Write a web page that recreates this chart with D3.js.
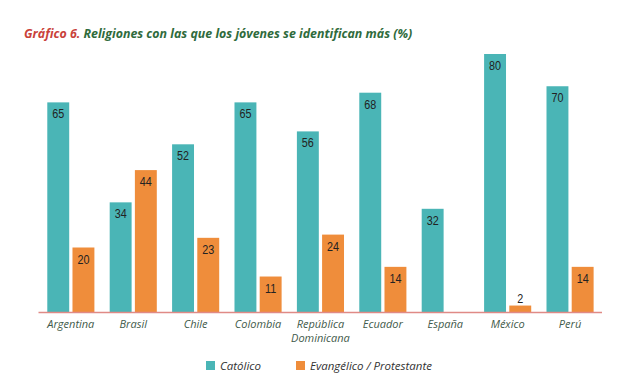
<!DOCTYPE html>
<html><head><meta charset="utf-8">
<script src="https://cdn.jsdelivr.net/npm/d3@7"></script>
<style>body{margin:0;background:#fff;} svg{display:block;}</style>
</head><body>
<svg id="c" width="630" height="384"></svg>
<script>
const countries = ["Argentina","Brasil","Chile","Colombia","República\nDominicana","Ecuador","España","México","Perú"];
const catolico = [65,34,52,65,56,68,32,80,70];
const evangelico = [20,44,23,11,24,14,null,2,14];
const seriesNames = ["Católico","Evangélico / Protestante"];
const colors = ["#4ab5b6","#ef8d3b"];

const svg = d3.select("#c");
const baseY = 312;
const y = d3.scaleLinear().domain([0,80]).range([baseY, 54]);
const x0 = d3.scaleBand().domain(countries).range([39.8, 601.1]).paddingInner(0.245).paddingOuter(0.12);
const x1 = d3.scaleBand().domain([0,1]).range([0, x0.bandwidth()]).paddingInner(0.13);

// title
const t = svg.append("text").attr("x",24).attr("y",38)
  .attr("font-family","'Open Sans', sans-serif").attr("font-size",12.4).attr("font-weight","bold").attr("font-style","italic");
t.append("tspan").attr("fill","#c9413a").text("Gráfico 6. ");
t.append("tspan").attr("fill","#2f6b3c").text("Religiones con las que los jóvenes se identifican más (%)");

const data = countries.map((c,i)=>({c, v:[catolico[i], evangelico[i]]}));
const g = svg.append("g");
data.forEach(d=>{
  d.v.forEach((v,k)=>{
    if(v==null) return;
    const bx = x0(d.c)+x1(k);
    g.append("rect").attr("x",bx).attr("y",y(v)).attr("width",x1.bandwidth()).attr("height",baseY-y(v))
      .attr("fill",colors[k]);
    const inside = (baseY-y(v))>20;
    const ly = inside ? y(v)+16 : y(v)-3;
    g.append("text").attr("transform",`translate(${bx+x1.bandwidth()/2},${ly}) scale(0.8,1)`)
      .attr("text-anchor","middle").attr("font-family","'Liberation Sans',sans-serif")
      .attr("font-size",13.5).attr("fill","#222").text(v);
  });
});

// axis baseline
const xAxis = d3.axisBottom(x0).tickSize(0).tickFormat("");
const ax = svg.append("g").attr("transform",`translate(0,${baseY})`).call(xAxis);
ax.select(".domain").attr("d","M38.5,0.5H602").attr("stroke","#e08a86").attr("stroke-width",1.3);
countries.forEach(c=>{
  const lines = c.split("\n");
  const tx = svg.append("text").attr("x",x0(c)+x0.bandwidth()/2).attr("y",327.5)
    .attr("text-anchor","middle").attr("font-family","'Open Sans',sans-serif").attr("font-style","italic")
    .attr("font-size",11).attr("fill","#3f5a4a");
  lines.forEach((l,i)=>tx.append("tspan").attr("x",x0(c)+x0.bandwidth()/2).attr("dy",i?14.5:0).text(l));
});

// legend
const legX = [206, 296];
seriesNames.forEach((n,i)=>{
  svg.append("rect").attr("x",legX[i]).attr("y",361).attr("width",9).attr("height",9).attr("fill",colors[i]);
  svg.append("text").attr("x",legX[i]+14).attr("y",370).attr("font-family","'Open Sans',sans-serif")
    .attr("font-style","italic").attr("font-size",11.5).attr("fill","#333").text(n);
});
</script>
</body></html>
